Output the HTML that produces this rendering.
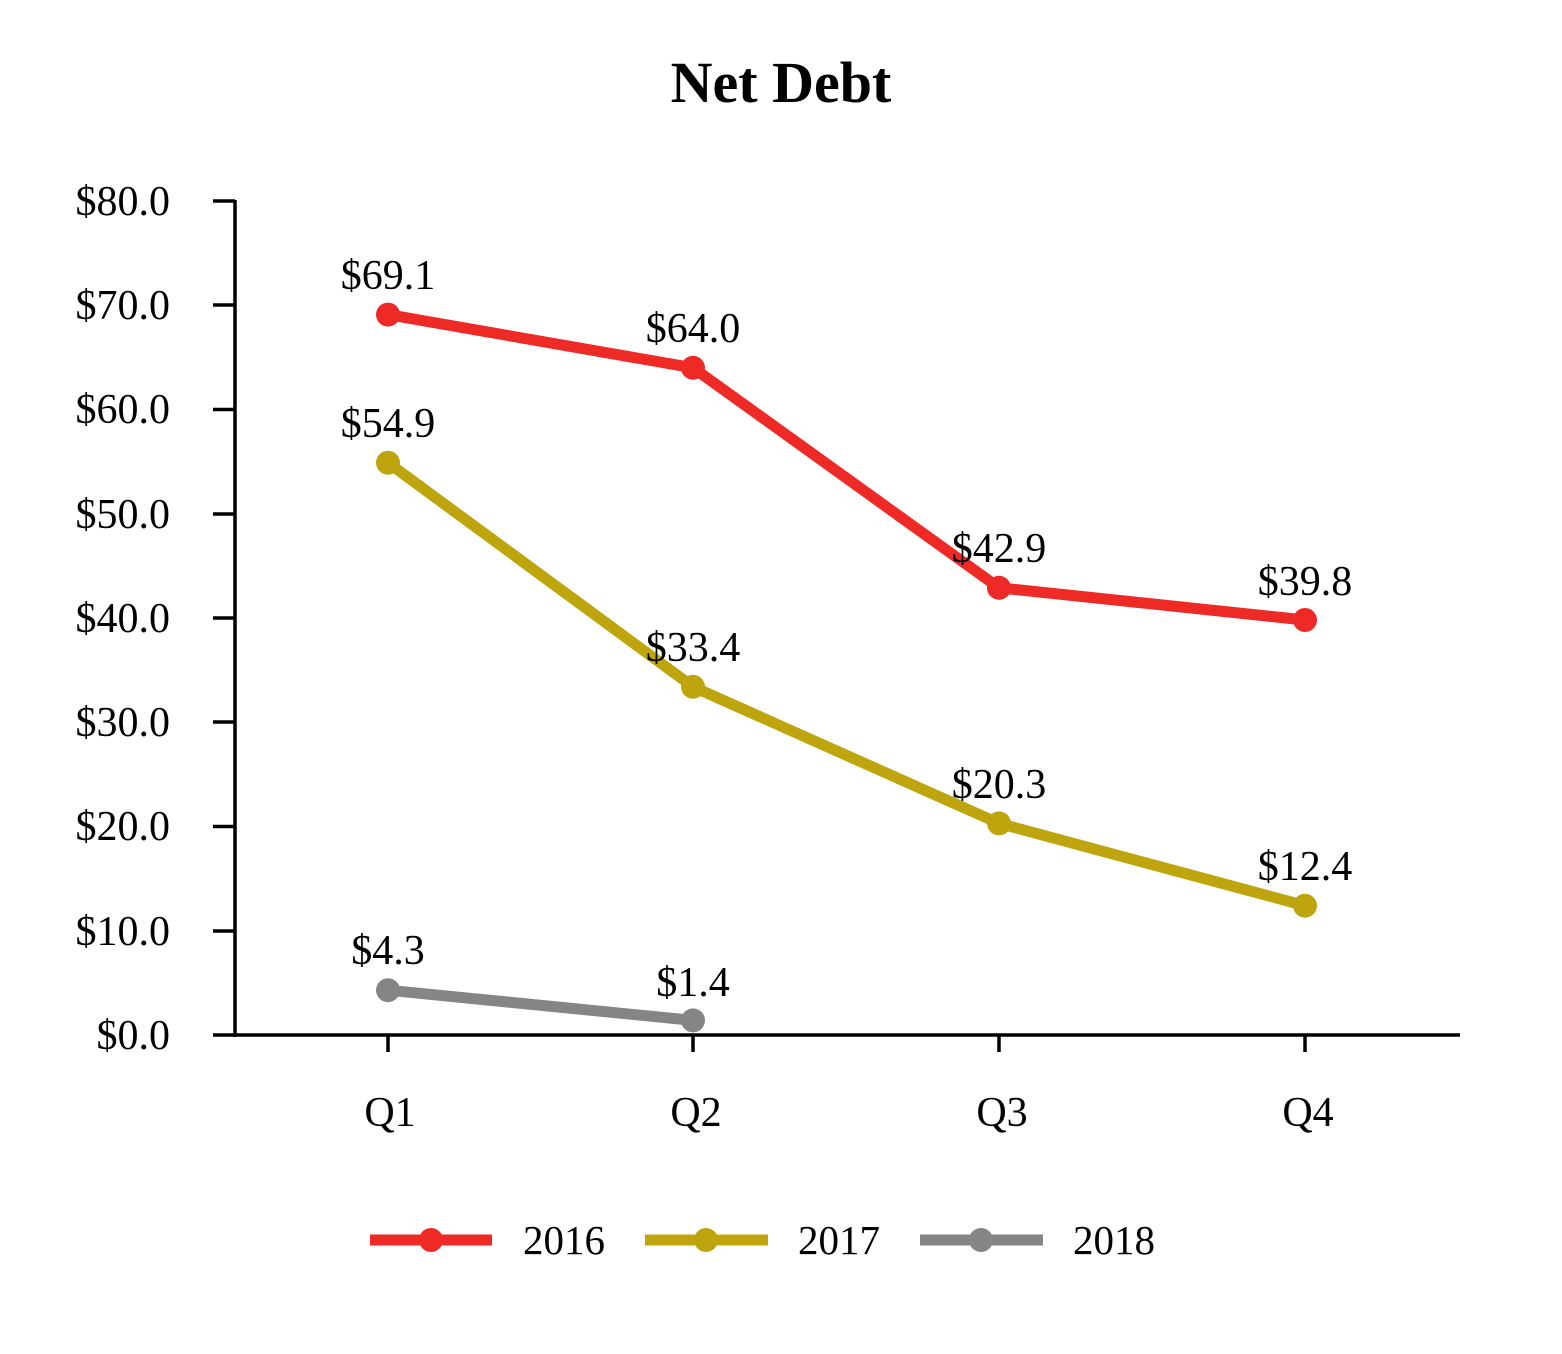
<!DOCTYPE html>
<html><head><meta charset="utf-8"><style>
html,body{margin:0;padding:0;background:#fff;}
svg{display:block;}
text{font-family:"Liberation Serif",serif;fill:#000;}
</style></head><body>
<svg width="1562" height="1354" viewBox="0 0 1562 1354" xmlns="http://www.w3.org/2000/svg">
<text x="781" y="102" font-size="58" font-weight="bold" text-anchor="middle">Net Debt</text>
<g stroke="#000" stroke-width="3.5">
<line x1="235" y1="200" x2="235" y2="1037"/>
<line x1="233" y1="1035" x2="1460" y2="1035"/>
<line x1="213" y1="201" x2="235" y2="201"/>
<line x1="213" y1="305" x2="235" y2="305"/>
<line x1="213" y1="409.5" x2="235" y2="409.5"/>
<line x1="213" y1="514" x2="235" y2="514"/>
<line x1="213" y1="618" x2="235" y2="618"/>
<line x1="213" y1="722" x2="235" y2="722"/>
<line x1="213" y1="826.5" x2="235" y2="826.5"/>
<line x1="213" y1="931" x2="235" y2="931"/>
<line x1="213" y1="1035" x2="235" y2="1035"/>
<line x1="388" y1="1035" x2="388" y2="1052"/>
<line x1="693" y1="1035" x2="693" y2="1052"/>
<line x1="999" y1="1035" x2="999" y2="1052"/>
<line x1="1305" y1="1035" x2="1305" y2="1052"/>
</g>
<g font-size="42" text-anchor="end">
<text x="170" y="215">$80.0</text>
<text x="170" y="319">$70.0</text>
<text x="170" y="423">$60.0</text>
<text x="170" y="528">$50.0</text>
<text x="170" y="632">$40.0</text>
<text x="170" y="736">$30.0</text>
<text x="170" y="840">$20.0</text>
<text x="170" y="945">$10.0</text>
<text x="170" y="1049">$0.0</text>
</g>
<g font-size="42" text-anchor="middle">
<text x="390" y="1126">Q1</text>
<text x="696" y="1126">Q2</text>
<text x="1002" y="1126">Q3</text>
<text x="1308" y="1126">Q4</text>
</g>
<g fill="none" stroke-width="11" stroke-linejoin="round">
<polyline stroke="#EE2A27" points="388,314.6 693,367.8 999,587.8 1305,620"/>
<polyline stroke="#BEA50E" points="388,462.7 693,686.8 999,823.4 1305,905.7"/>
<polyline stroke="#858585" points="388,990.2 693,1020.4"/>
</g>
<g fill="#EE2A27"><circle cx="388" cy="314.6" r="12"/><circle cx="693" cy="367.8" r="12"/><circle cx="999" cy="587.8" r="12"/><circle cx="1305" cy="620" r="12"/></g>
<g fill="#BEA50E"><circle cx="388" cy="462.7" r="12"/><circle cx="693" cy="686.8" r="12"/><circle cx="999" cy="823.4" r="12"/><circle cx="1305" cy="905.7" r="12"/></g>
<g fill="#858585"><circle cx="388" cy="990.2" r="12"/><circle cx="693" cy="1020.4" r="12"/></g>
<g font-size="42" text-anchor="middle">
<text x="388" y="289">$69.1</text>
<text x="693" y="342">$64.0</text>
<text x="999" y="562">$42.9</text>
<text x="1305" y="595">$39.8</text>
<text x="388" y="437">$54.9</text>
<text x="693" y="661">$33.4</text>
<text x="999" y="798">$20.3</text>
<text x="1305" y="880">$12.4</text>
<text x="388" y="964">$4.3</text>
<text x="693" y="996">$1.4</text>
</g>
<g stroke-width="11">
<line x1="370" y1="1240" x2="492" y2="1240" stroke="#EE2A27"/>
<line x1="645" y1="1240" x2="768" y2="1240" stroke="#BEA50E"/>
<line x1="920" y1="1240" x2="1043" y2="1240" stroke="#858585"/>
</g>
<circle cx="431" cy="1240" r="12" fill="#EE2A27"/>
<circle cx="706" cy="1240" r="12" fill="#BEA50E"/>
<circle cx="981" cy="1240" r="12" fill="#858585"/>
<g font-size="41">
<text x="523" y="1254">2016</text>
<text x="798" y="1254">2017</text>
<text x="1073" y="1254">2018</text>
</g>
</svg>
</body></html>
